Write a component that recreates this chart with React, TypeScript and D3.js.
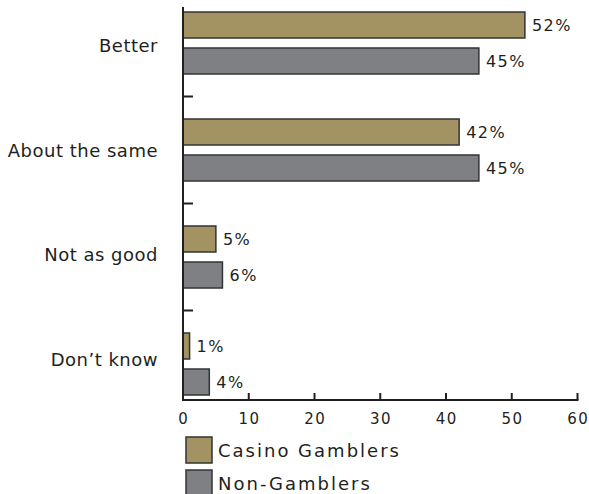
import React from "react";
import * as d3 from "d3";

const categories = ["Better", "About the same", "Not as good", "Don\u2019t know"];
const seriesNames = ["Casino Gamblers", "Non-Gamblers"];
const casinoValues = [52, 42, 5, 1];
const nonGamblerValues = [45, 45, 6, 4];
const xTicks = [0, 10, 20, 30, 40, 50, 60];
const colors = ["#a39262", "#7f8083"];

const W = 589;
const H = 494;
const FONT = "'DejaVu Sans', Arial, sans-serif";
const INK = "#231f20";

export default function App() {
  const x = d3.scaleLinear().domain([0, 60]).range([183, 577.5]);
  const y = d3
    .scaleBand<string>()
    .domain(categories)
    .range([-10.5, 417.5])
    .paddingInner(45 / 107)
    .paddingOuter(45 / 214);
  const inner = d3
    .scaleBand<string>()
    .domain(seriesNames)
    .range([0, y.bandwidth()])
    .paddingInner(10 / 36);
  const labelY = d3.scalePoint<string>().domain(categories).range([45.5, 359.5]);

  const series = [casinoValues, nonGamblerValues];
  const axisY = 400;
  const gap = (y.step() - y.bandwidth()) / 2;

  return (
    <svg
      width={W}
      height={H}
      style={{ position: "absolute", left: 0, top: 0, background: "#fff" }}
      fontFamily={FONT}
    >
      {/* category labels */}
      {categories.map((c) => (
        <text
          key={c}
          x={158}
          y={labelY(c)}
          dy="0.36em"
          textAnchor="end"
          fontSize={18}
          letterSpacing={0.5}
          fill={INK}
        >
          {c}
        </text>
      ))}

      {/* bars */}
      {categories.map((c, i) =>
        seriesNames.map((s, j) => {
          const v = series[j][i];
          const by = (y(c) as number) + (inner(s) as number);
          const bh = inner.bandwidth();
          return (
            <g key={c + s}>
              <rect
                x={x(0)}
                y={by}
                width={x(v) - x(0)}
                height={bh}
                fill={colors[j]}
                stroke="#333"
                strokeWidth={1.5}
              />
              <text
                x={x(v) + 7}
                y={by + bh / 2}
                dy="0.36em"
                fontSize={16}
                letterSpacing={1.5}
                fill={INK}
              >
                {v}%
              </text>
            </g>
          );
        })
      )}

      {/* category separator ticks */}
      {categories.slice(1).map((c) => {
        const yy = (y(c) as number) - gap;
        return (
          <line key={"sep" + c} x1={x(0)} x2={x(0) + 10} y1={yy} y2={yy} stroke={INK} strokeWidth={2} />
        );
      })}

      {/* y axis line */}
      <line x1={x(0)} x2={x(0)} y1={7} y2={axisY + 1} stroke={INK} strokeWidth={2} />
      {/* x axis line */}
      <line x1={x(0) - 1} x2={x(60) + 1} y1={axisY} y2={axisY} stroke={INK} strokeWidth={2} />
      {xTicks.map((t) => (
        <g key={"t" + t}>
          <line x1={x(t)} x2={x(t)} y1={axisY} y2={axisY - 7} stroke={INK} strokeWidth={2} />
          <text
            x={x(t) + 0.75}
            y={424}
            textAnchor="middle"
            fontSize={15}
            letterSpacing={1.5}
            fill={INK}
          >
            {t}
          </text>
        </g>
      ))}

      {/* legend */}
      {seriesNames.map((s, j) => (
        <g key={"lg" + s} transform={`translate(186, ${437 + j * 33})`}>
          <rect x={0} y={0} width={26} height={26} fill={colors[j]} stroke="#333" strokeWidth={1.5} />
          <text x={32} y={20} fontSize={18} letterSpacing={2} fill={INK}>
            {s}
          </text>
        </g>
      ))}
    </svg>
  );
}
